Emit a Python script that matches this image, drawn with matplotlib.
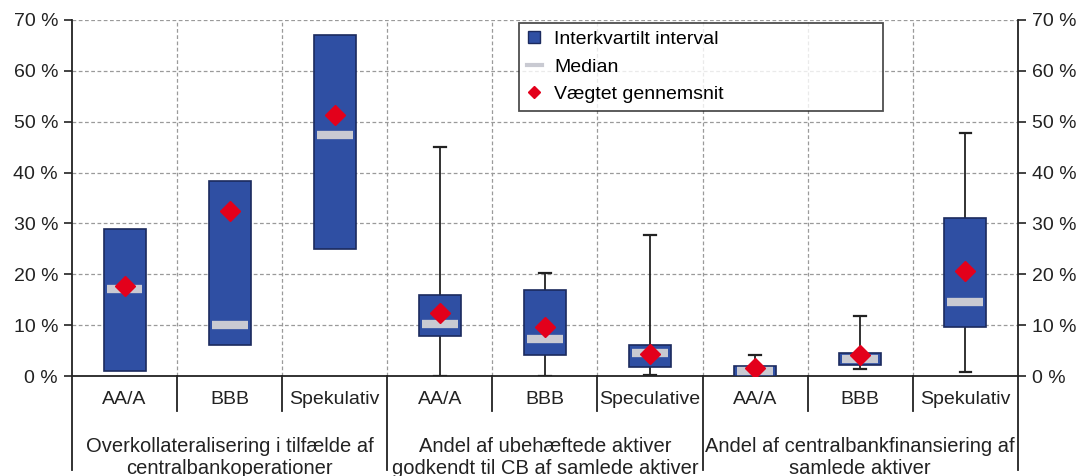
import numpy as np
import matplotlib
matplotlib.use("Agg")
import matplotlib.pyplot as plt
from matplotlib.lines import Line2D
from matplotlib.ticker import FuncFormatter

plt.rcParams['font.family'] = ['Liberation Sans', 'DejaVu Sans']

# data (percent)
categories = ['AA/A', 'BBB', 'Spekulativ', 'AA/A', 'BBB', 'Speculative', 'AA/A', 'BBB', 'Spekulativ']
groups = [
    ('Overkollateralisering i tilfælde af', 'centralbankoperationer'),
    ('Andel af ubehæftede aktiver', 'godkendt til CB af samlede aktiver'),
    ('Andel af centralbankfinansiering af', 'samlede aktiver'),
]
q1 = [1.0, 6.2, 25.0, 7.8, 4.1, 1.8, 0.0, 2.2, 9.6]
q3 = [29.0, 38.3, 67.0, 15.9, 17.0, 6.2, 2.0, 4.5, 31.0]
median = [17.1, 10.0, 47.3, 10.3, 7.3, 4.6, 1.0, 3.3, 14.5]
mean = [17.8, 32.4, 51.4, 12.3, 9.6, 4.4, 1.5, 4.2, 20.7]
whisker_lo = [np.nan, np.nan, np.nan, 0.0, 0.0, 0.2, np.nan, 1.4, 0.7]
whisker_hi = [np.nan, np.nan, np.nan, 45.0, 20.2, 27.8, 4.2, 11.9, 47.8]

BLUE = '#2f4fa3'
EDGE = '#1b2a5e'
MED = '#c9cad2'
RED = '#e3001b'
INK = '#222222'

fig = plt.figure(figsize=(10.81, 4.76), dpi=100)
ax = fig.add_axes([0.0666, 0.210, 0.875, 0.748])

x = np.arange(len(categories))
hw = 0.2

# whiskers
for xi, lo, hi, b, t in zip(x, whisker_lo, whisker_hi, q1, q3):
    if not np.isnan(hi):
        ax.plot([xi, xi], [t, hi], color=INK, lw=1.3, zorder=2)
        ax.plot([xi - 0.055, xi + 0.055], [hi, hi], color=INK, lw=1.6, zorder=2)
    if not np.isnan(lo):
        ax.plot([xi, xi], [lo, b], color=INK, lw=1.3, zorder=2)
        ax.plot([xi - 0.055, xi + 0.055], [lo, lo], color=INK, lw=1.6, zorder=2)

# interquartile boxes
ax.bar(x, np.array(q3) - np.array(q1), bottom=q1, width=2 * hw, color=BLUE,
       edgecolor=EDGE, linewidth=1.2, zorder=3)
# medians
ax.hlines(median, x - hw + 0.03, x + hw - 0.03, colors=MED, linewidth=6, zorder=4)
# weighted mean
ax.plot(x, mean, linestyle='none', marker='D', markersize=10, color=RED, zorder=5)

ax.set_xlim(-0.5, 8.5)
ax.set_ylim(0, 70)
ax.set_yticks(np.arange(0, 71, 10))
ax.yaxis.set_major_formatter(FuncFormatter(lambda v, p: f'{int(v)} %'))
ax.tick_params(axis='y', which='both', left=True, right=True, labelleft=True,
               labelright=True, direction='out', length=6, width=1.2,
               labelsize=14, colors=INK, pad=4)
ax.set_xticks([])

# grid
for yv in range(10, 71, 10):
    ax.axhline(yv, color='#9a9a9a', lw=0.9, ls=(0, (3, 2)), zorder=1)
for xv in np.arange(0.5, 8.5, 1.0):
    ax.axvline(xv, color='#9a9a9a', lw=0.9, ls=(0, (3, 2)), zorder=1)

ax.spines['top'].set_visible(False)
for s in ['left', 'right', 'bottom']:
    ax.spines[s].set_color(INK)
    ax.spines[s].set_linewidth(1.3)

# two-level category axis
tr = ax.get_xaxis_transform()
for xi, lab in zip(x, categories):
    ax.text(xi, -0.067, lab, transform=tr, ha='center', va='center', fontsize=14, color=INK)
for xv in [0.5, 1.5, 3.5, 4.5, 6.5, 7.5]:
    ax.plot([xv, xv], [0, -0.098], transform=tr, color=INK, lw=1.3, clip_on=False)
for xv in [-0.5, 2.5, 5.5, 8.5]:
    ax.plot([xv, xv], [0, -0.265], transform=tr, color=INK, lw=1.3, clip_on=False)
for gi, (l1, l2) in enumerate(groups):
    ax.text(3 * gi + 1, -0.197, l1, transform=tr, ha='center', va='center', fontsize=14.5, color=INK)
    ax.text(3 * gi + 1, -0.259, l2, transform=tr, ha='center', va='center', fontsize=14.5, color=INK)

handles = [
    Line2D([], [], linestyle='none', marker='s', markersize=8, markerfacecolor=BLUE, markeredgecolor=EDGE),
    Line2D([], [], color=MED, lw=3),
    Line2D([], [], linestyle='none', marker='D', markersize=6, color=RED),
]
labels = ['Interkvartilt interval', 'Median', 'Vægtet gennemsnit']
leg = ax.legend(handles, labels, loc='upper left', bbox_to_anchor=(0.4725, 0.992, 0.385, 0.0),
                mode='expand', borderaxespad=0, frameon=True, fancybox=False, fontsize=14,
                handlelength=0.8, handletextpad=0.6, labelspacing=0.5, borderpad=0.4)
leg.get_frame().set_edgecolor(INK)
leg.get_frame().set_linewidth(1.3)
leg.set_zorder(10)

fig.savefig('out.png', dpi=100)
